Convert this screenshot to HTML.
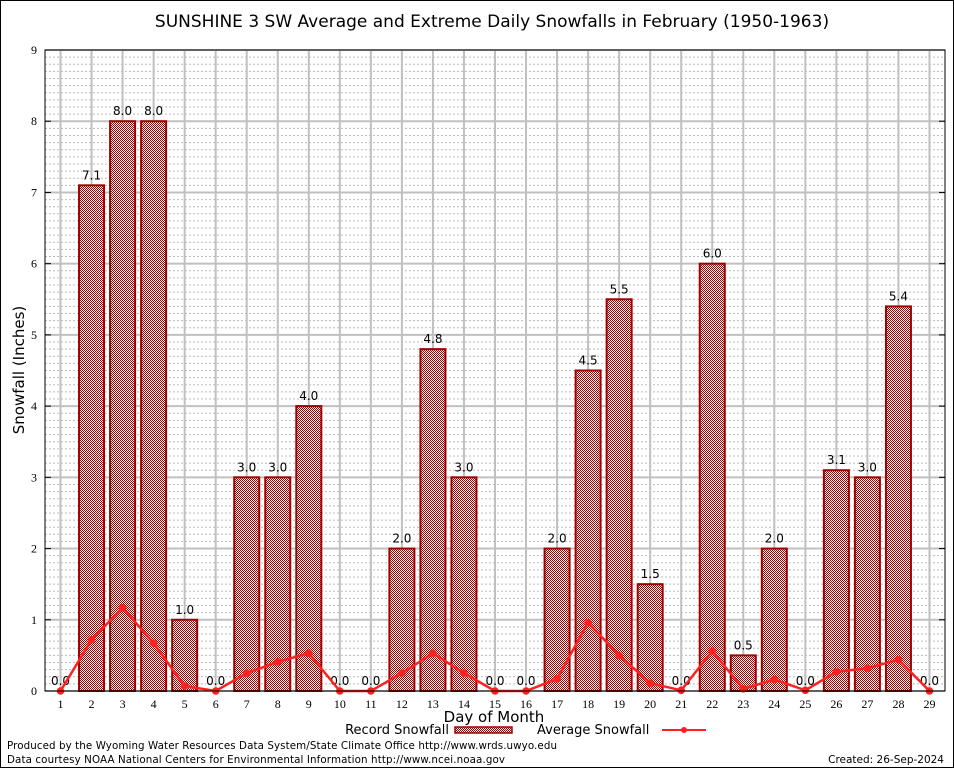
<!DOCTYPE html>
<html><head><meta charset="utf-8"><style>
html,body{margin:0;padding:0;background:#fff;}
svg text{font-family:"DejaVu Sans","Liberation Sans",sans-serif;}
svg text.serif{font-family:"Liberation Serif","DejaVu Serif",serif;}
</style></head><body>
<svg id="chart" width="954" height="768" viewBox="0 0 954 768" xmlns="http://www.w3.org/2000/svg">
<defs>
<pattern id="hatch" width="2" height="2" patternUnits="userSpaceOnUse">
<rect width="2" height="2" fill="#fff"/><rect width="1" height="1" fill="#a00000"/><rect x="1" y="1" width="1" height="1" fill="#a00000"/>
</pattern>
</defs>
<rect x="0.5" y="0.5" width="953" height="767" fill="#fff" stroke="#000"/>
<text x="492" y="27" font-size="17" text-anchor="middle">SUNSHINE 3 SW Average and Extreme Daily Snowfalls in February (1950-1963)</text>
<g id="grid"></g>
<g id="bars"></g>
<g id="line"></g>
<rect x="45" y="50" width="900" height="641" fill="none" stroke="#000"/>
<g id="axes"></g>
<text transform="translate(24,370) rotate(-90)" font-size="15" text-anchor="middle">Snowfall (Inches)</text>
<text x="494" y="722" font-size="15" text-anchor="middle">Day of Month</text>
<g>
<text x="449" y="734" font-size="13" text-anchor="end">Record Snowfall</text>
<rect x="455" y="727" width="57" height="6" fill="url(#hatch)" stroke="#a00000" stroke-width="1.5"/>
</g>
<g>
<text x="537" y="734" font-size="13">Average Snowfall</text>
<line x1="662" y1="730" x2="706" y2="730" stroke="#ff2020" stroke-width="2"/>
<circle cx="684" cy="730" r="3" fill="#ff2020"/>
</g>
<text x="7" y="749" font-size="10.3" textLength="550">Produced by the Wyoming Water Resources Data System/State Climate Office http://www.wrds.uwyo.edu</text>
<text x="7" y="763" font-size="10.3" textLength="498">Data courtesy NOAA National Centers for Environmental Information http://www.ncei.noaa.gov</text>
<text x="944" y="763" font-size="10.5" text-anchor="end">Created: 26-Sep-2024</text>
</svg>
<script>
const days = [1,2,3,4,5,6,7,8,9,10,11,12,13,14,15,16,17,18,19,20,21,22,23,24,25,26,27,28,29];
const recordSnow = [0.0,7.1,8.0,8.0,1.0,0.0,3.0,3.0,4.0,0.0,0.0,2.0,4.8,3.0,0.0,0.0,2.0,4.5,5.5,1.5,0.0,6.0,0.5,2.0,0.0,3.1,3.0,5.4,0.0];
const avgSnow = [0,0.72,1.17,0.67,0.07,0,0.25,0.41,0.53,0,0,0.25,0.53,0.25,0,0,0.17,0.96,0.5,0.11,0.01,0.56,0.03,0.16,0.01,0.27,0.32,0.44,0];
const yTicks = [0,1,2,3,4,5,6,7,8,9];

const NS="http://www.w3.org/2000/svg";
const L=45,R=945,T=50,B=691;
function xs(d){return L+(d-0.5)*(R-L)/29;}
function ys(v){return B-v*(B-T)/9;}
function mk(tag,attrs,parent){const e=document.createElementNS(NS,tag);for(const k in attrs)e.setAttribute(k,attrs[k]);parent.appendChild(e);return e;}
const grid=document.getElementById('grid'),bars=document.getElementById('bars'),line=document.getElementById('line'),axes=document.getElementById('axes');
for(let i=1;i<90;i++){if(i%10===0)continue;const y=ys(i/10);
const g=mk('line',{x1:L,x2:R,y1:y,y2:y,stroke:'#bbb','stroke-width':1,'stroke-dasharray':'2,2'},grid);

}
yTicks.forEach(t=>{const y=ys(t);
const g=mk('line',{x1:L,x2:R,y1:y,y2:y,stroke:'#c0c0c0','stroke-width':2},grid);


const tx=mk('text',{x:L-8,y:y+4,'font-size':12,'text-anchor':'end','class':'serif'},axes);tx.textContent=t;


mk('line',{x1:L,x2:L+6,y1:y,y2:y,stroke:'#000'},axes);
mk('line',{x1:R-6,x2:R,y1:y,y2:y,stroke:'#000'},axes);});
days.forEach((d,i)=>{const x=xs(d);
const g=mk('line',{x1:x,x2:x,y1:T,y2:B,stroke:'#c0c0c0','stroke-width':2},grid);


const tx=mk('text',{x:x,y:B+17,'font-size':12,'text-anchor':'middle','class':'serif'},axes);tx.textContent=d;


const v=recordSnow[i];
if(v>0){const b=mk('rect',{x:x-12.5,y:ys(v),width:25,height:B-ys(v),fill:'url(#hatch)',stroke:'#a00000','stroke-width':2},bars);

}
const lb=mk('text',{x:x,y:ys(v)-6,'font-size':12,'text-anchor':'middle'},bars);lb.textContent=v.toFixed(1);

});
const pts=days.map((d,i)=>xs(d)+','+ys(avgSnow[i])).join(' ');
const pl=mk('polyline',{points:pts,fill:'none',stroke:'#ff2020','stroke-width':2.5},line);


days.forEach((d,i)=>{const c=mk('circle',{cx:xs(d),cy:ys(avgSnow[i]),r:3.8,fill:'#ff2020'},line);

});
</script>
</body></html>
